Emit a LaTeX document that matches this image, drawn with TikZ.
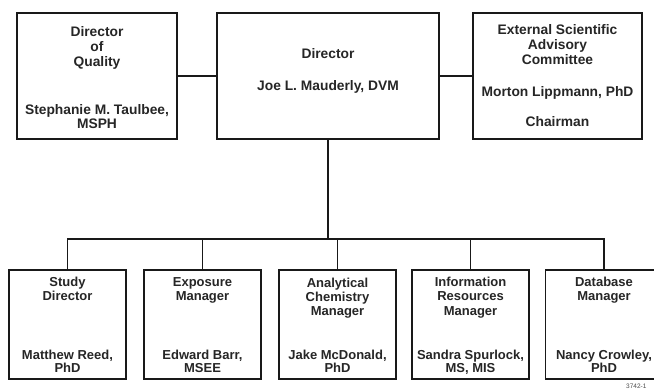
\documentclass[tikz,border=0pt]{standalone}
\usepackage{fontspec}
\setmainfont{Liberation Sans}
\begin{document}
\begin{tikzpicture}[x=1pt,y=-1pt,
  box/.style={draw=black!90,line width=1.8pt,fill=white,inner sep=0pt,minimum height=#1},
  link/.style={draw=black!90,line width=1.8pt},
  top/.style={anchor=base,inner sep=0pt,font=\fontsize{13.8}{15}\selectfont\bfseries,text=black!85},
  bot/.style={anchor=base,inner sep=0pt,font=\fontsize{13}{14}\selectfont\bfseries,text=black!85},
  tag/.style={anchor=base west,inner sep=0pt,font=\fontsize{6.5}{7}\selectfont,text=black!70}]
\useasboundingbox (0,0) rectangle (654,389);
\clip (0,0) rectangle (654,389);
% top row
\node[box=126pt,minimum width=160pt] (q) at (97,76) {};
\node[box=126pt,minimum width=222pt] (d) at (328,76) {};
\node[box=126pt,minimum width=169pt] (e) at (557.5,76) {};
% bottom row
\node[box=109pt,minimum width=117pt] (c1) at (67.5,324.5) {};
\node[box=109pt,minimum width=117pt] (c2) at (202.5,324.5) {};
\node[box=109pt,minimum width=117pt] (c3) at (337.5,324.5) {};
\node[box=109pt,minimum width=117pt] (c4) at (470.5,324.5) {};
\node[box=109pt,minimum width=117pt] (c5) at (604,324.5) {};
% connectors
\coordinate (bus) at (328,239);
\draw[link] (q.east) -- (d.west);
\draw[link] (d.east) -- (e.west);
\draw[link] (d.south) -- (bus);
\draw[link,line cap=rect] (bus -| c1.north) -- (bus -| c5.north);
\foreach \c in {c1,c2,c3,c4,c5} \draw[link] (bus -| \c.north) -- (\c.north);
% texts top
\node[top] (q1) at (97,36) {Director};
\node[top] (q2) at (97,51) {of};
\node[top] (q3) at (97,66) {Quality};
\node[top] (q4) at (97,114) {Stephanie M. Taulbee,};
\node[top] (q5) at (97,128.5) {MSPH};
\node[top] (d1) at (328,58.3) {Director};
\node[top] (d2) at (328,90) {Joe L. Mauderly, DVM};
\node[top] (e1) at (557.5,34.5) {External Scientific};
\node[top] (e2) at (557.5,49.5) {Advisory};
\node[top] (e3) at (557.5,64.8) {Committee};
\node[top] (e4) at (557.5,96.5) {Morton Lippmann, PhD};
\node[top] (e5) at (557.5,126.5) {Chairman};
% texts bottom
\node[bot] (a1) at (67.5,286.3) {Study};
\node[bot] (a2) at (67.5,300.5) {Director};
\node[bot] (a3) at (67.5,359.3) {Matthew Reed,};
\node[bot] (a4) at (67.5,372.7) {PhD};
\node[bot] (b1) at (202.5,286.3) {Exposure};
\node[bot] (b2) at (202.5,300.5) {Manager};
\node[bot] (b3) at (202.5,359.3) {Edward Barr,};
\node[bot] (b4) at (202.5,372.7) {MSEE};
\node[bot] (g1) at (337.5,287) {Analytical};
\node[bot] (g2) at (337.5,301.3) {Chemistry};
\node[bot] (g3) at (337.5,315.5) {Manager};
\node[bot] (g4) at (337.5,359.3) {Jake McDonald,};
\node[bot] (g5) at (337.5,372.7) {PhD};
\node[bot] (h1) at (470.5,286.5) {Information};
\node[bot] (h2) at (470.5,300.7) {Resources};
\node[bot] (h3) at (470.5,315) {Manager};
\node[bot] (h4) at (470.5,359.3) {Sandra Spurlock,};
\node[bot] (h5) at (470.5,372.7) {MS, MIS};
\node[bot] (k1) at (604,286.3) {Database};
\node[bot] (k2) at (604,300.5) {Manager};
\node[bot] (k3) at (604,359.3) {Nancy Crowley,};
\node[bot] (k4) at (604,372.7) {PhD};
\node[tag] (t) at (626,388.3) {3742-1};
\end{tikzpicture}
\end{document}
